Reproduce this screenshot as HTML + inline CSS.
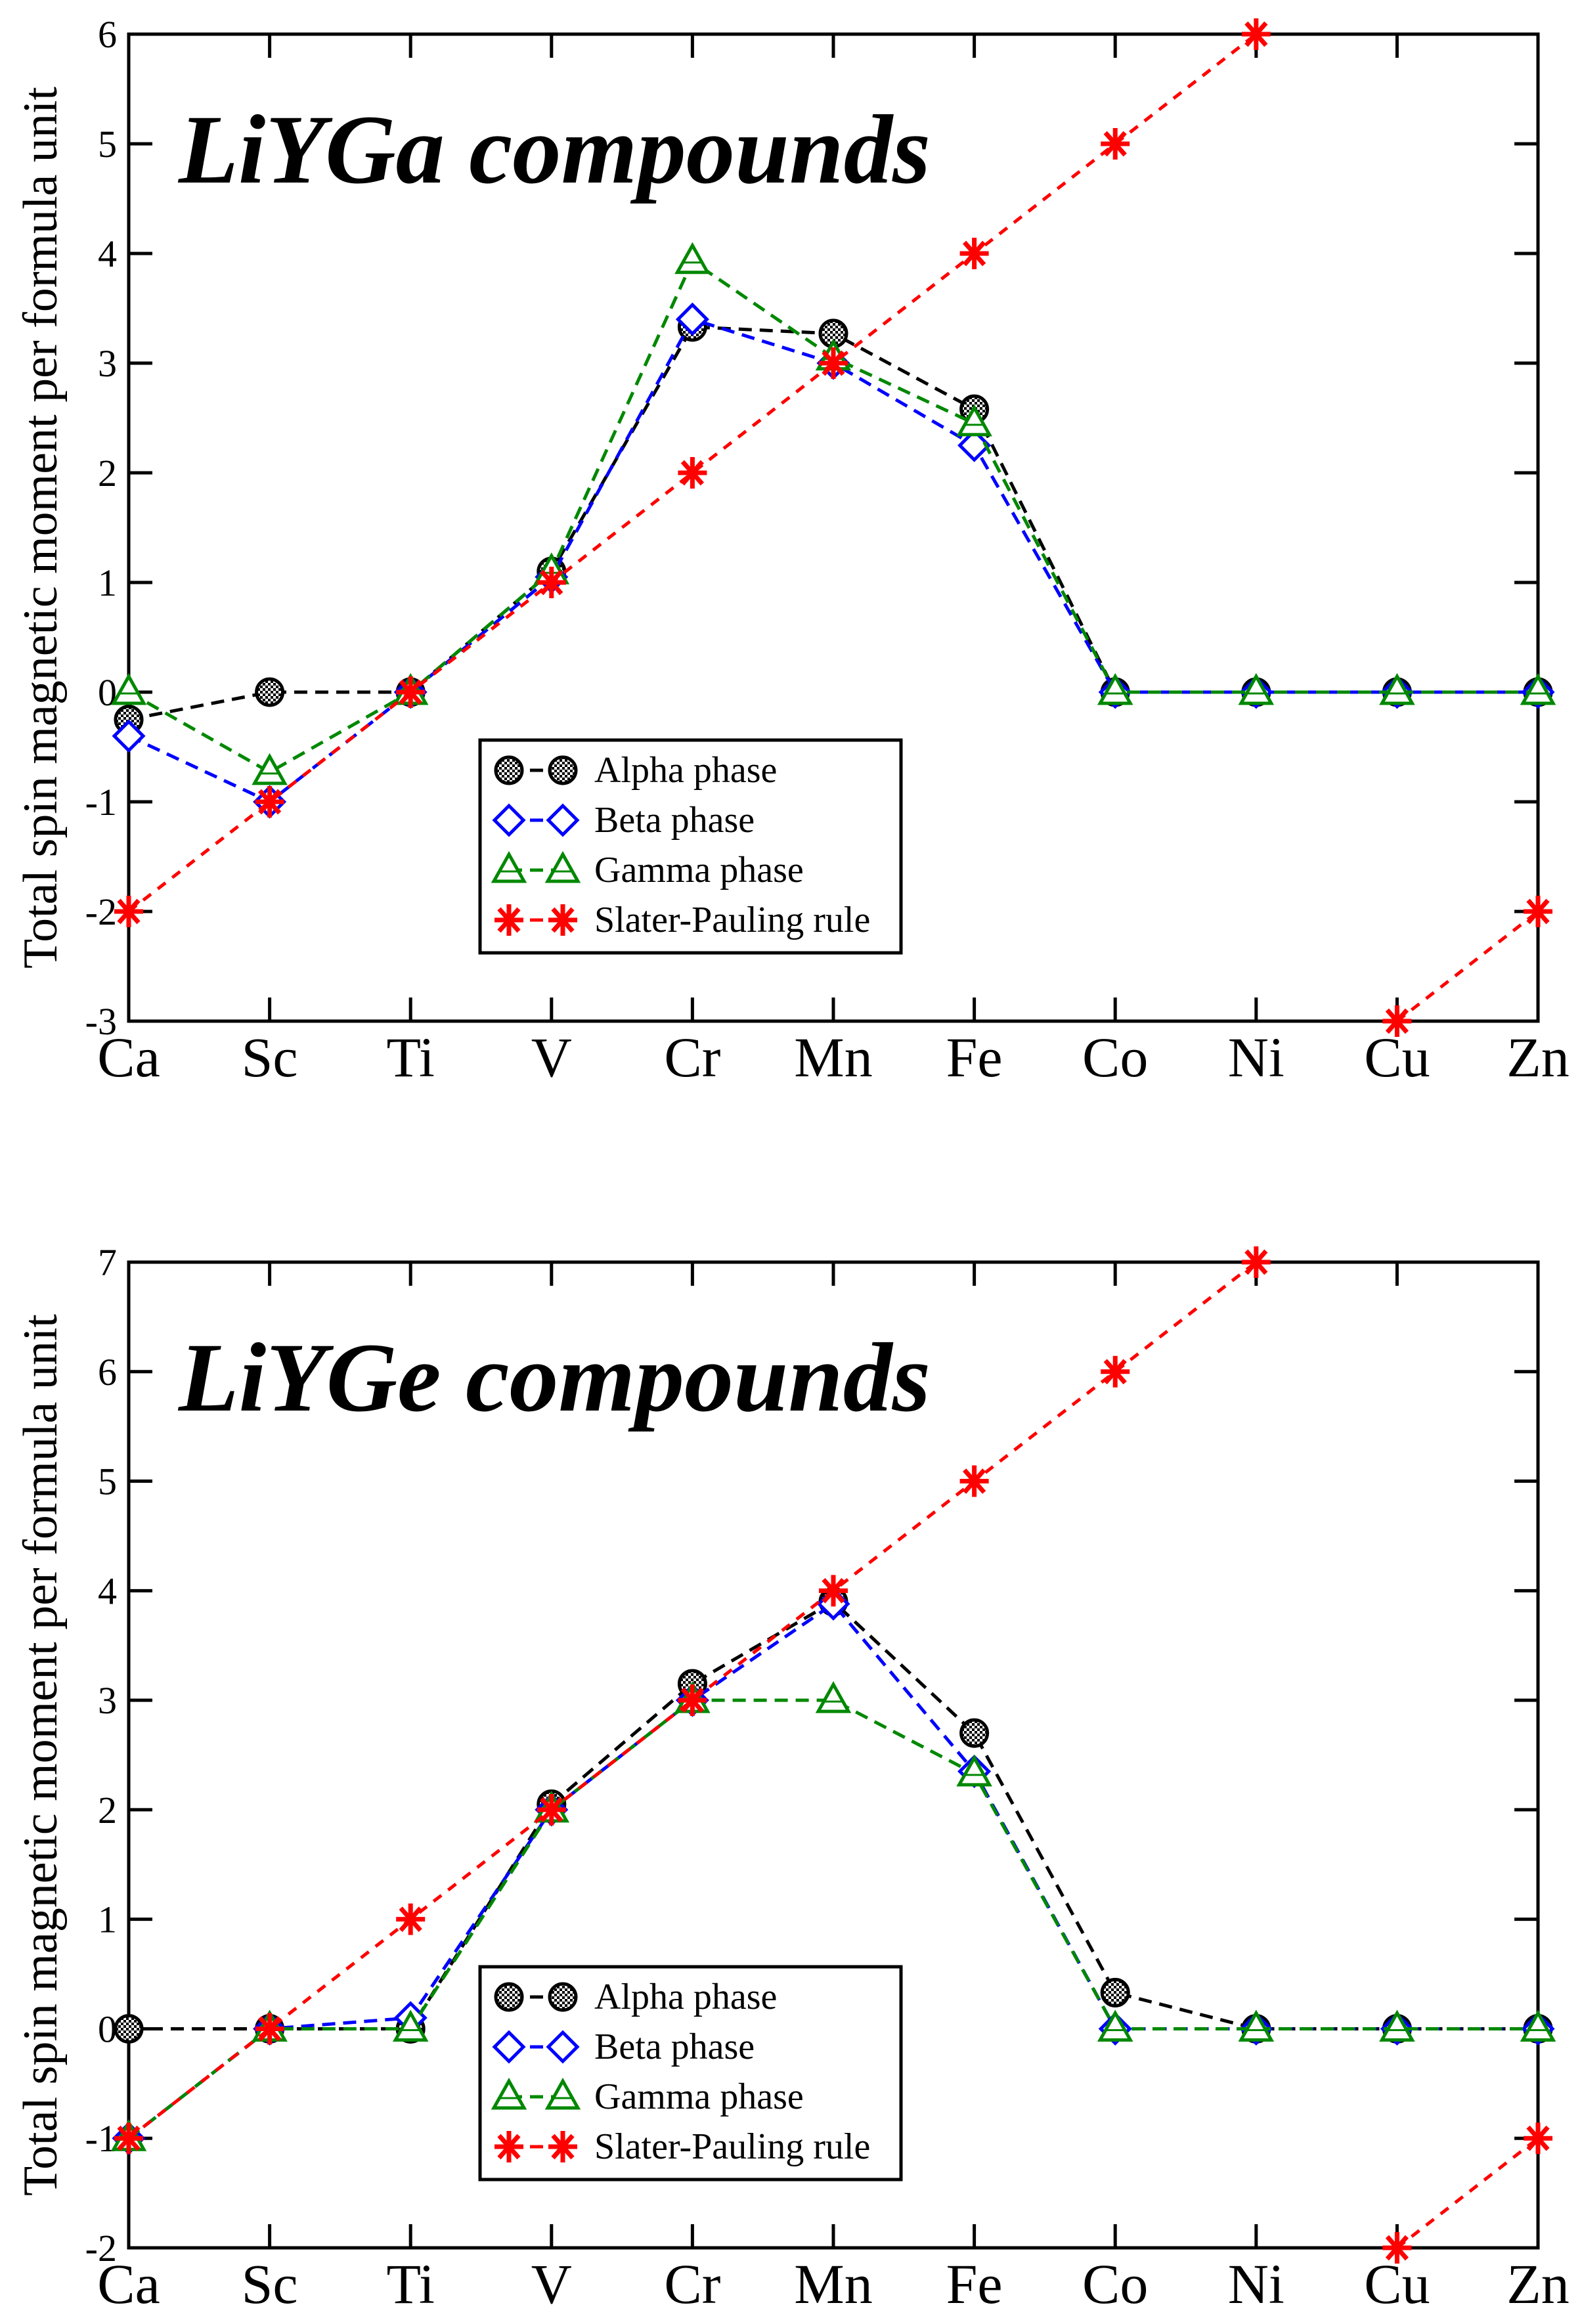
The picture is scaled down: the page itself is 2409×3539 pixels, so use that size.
<!DOCTYPE html>
<html><head><meta charset="utf-8"><style>
html,body{margin:0;padding:0;background:#fff;}
svg{display:block;}
text{font-family:"Liberation Serif",serif;}
</style></head><body>
<svg id="chart" width="2409" height="3539" viewBox="0 0 2409 3539" xmlns="http://www.w3.org/2000/svg">
<defs>
<pattern id="chk" width="8" height="8" patternUnits="userSpaceOnUse">
<rect width="8" height="8" fill="#fff"/><rect width="4" height="4" fill="#000"/><rect x="4" y="4" width="4" height="4" fill="#000"/>
</pattern>
</defs>
</svg>
<script>
const categories = ["Ca","Sc","Ti","V","Cr","Mn","Fe","Co","Ni","Cu","Zn"];
const gaYTicks = [-3,-2,-1,0,1,2,3,4,5,6];
const geYTicks = [-2,-1,0,1,2,3,4,5,6,7];
const gaAlpha = [-0.25,0,0,1.1,3.33,3.27,2.58,0,0,0,0];
const gaBeta  = [-0.4,-1,0,1.05,3.4,3.0,2.25,0,0,0,0];
const gaGamma = [0,-0.73,0,1.1,3.93,3.05,2.45,0,0,0,0];
const gaSP    = [-2,-1,0,1,2,3,4,5,6,-3,-2];
const geAlpha = [0,0,0,2.05,3.15,3.9,2.7,0.33,0,0,0];
const geBeta  = [-1,0,0.1,2.0,3.0,3.88,2.35,0,0,0,0];
const geGamma = [-1,0,0,2.0,3.0,3.0,2.33,0,0,0,0];
const geSP    = [-1,0,1,2,3,4,5,6,7,-2,-1];
const spBreakAfter = 8;

const NS="http://www.w3.org/2000/svg";
const svg=document.getElementById('chart');
function mk(tag,attrs,parent){const e=document.createElementNS(NS,tag);for(const k in attrs)e.setAttribute(k,attrs[k]);(parent||svg).appendChild(e);return e;}

function marker(g,kind,x,y){
  let e;
  if(kind==='alpha'){e=mk('circle',{cx:x,cy:y,r:20,fill:'url(#chk)',stroke:'#000','stroke-width':5},g);}
  else if(kind==='beta'){e=mk('path',{d:`M${x} ${y-22}L${x+22} ${y}L${x} ${y+22}L${x-22} ${y}Z`,fill:'#fff',stroke:'#0000ff','stroke-width':5},g);}
  else if(kind==='gamma'){e=mk('path',{d:`M${x} ${y-24}L${x+23} ${y+17}L${x-23} ${y+17}Z`,fill:'#fff',stroke:'#008800','stroke-width':5},g);
    mk('line',{x1:x-14,y1:y+2,x2:x+14,y2:y+2,stroke:'#008800','stroke-width':3},g);}
  else {e=mk('path',{d:`M${x-22} ${y}H${x+22}M${x} ${y-24}V${y+24}M${x-15} ${y-17}L${x+15} ${y+17}M${x-15} ${y+17}L${x+15} ${y-17}`,stroke:'#ff0000','stroke-width':7,fill:'none'},g);}
  
  
}

const styles={alpha:{c:'#000',d:'20 12'},beta:{c:'#0000ff',d:'20 12'},gamma:{c:'#008800',d:'20 12'},sp:{c:'#ff0000',d:'15 13'}};

function drawPlot(top,bottom,yTicks,series,title,legTop,name){
  const L=196,R=2342;
  const ymin=yTicks[0],ymax=yTicks[yTicks.length-1];
  const xs=i=>L+i*(R-L)/(categories.length-1);
  const ys=v=>bottom-(v-ymin)/(ymax-ymin)*(bottom-top);
  const g=mk('g',{});
  
  
  const fr=mk('rect',{x:L,y:top,width:R-L,height:bottom-top,fill:'none',stroke:'#000','stroke-width':5},g);
  
  
  yTicks.forEach(v=>{
    const y=ys(v);
    const t=mk('path',{d:`M${L} ${y}h36M${R} ${y}h-36`,stroke:'#000','stroke-width':5},g);
    
    
    const tl=mk('text',{x:178,y:y+20,'font-size':58,'text-anchor':'end'},g);
    tl.textContent=v;
    
    
  });
  categories.forEach((c,i)=>{
    const x=xs(i);
    const t=mk('path',{d:`M${x} ${top}v36M${x} ${bottom}v-36`,stroke:'#000','stroke-width':5},g);
    
    
    const tl=mk('text',{x:x,y:bottom+84,'font-size':86,'text-anchor':'middle'},g);
    tl.textContent=c;
    
    
  });
  const yl=mk('text',{x:0,y:0,'font-size':74,'text-anchor':'middle',transform:`translate(86 ${(top+bottom)/2}) rotate(-90)`},g);
  yl.textContent='Total spin magnetic moment per formula unit';
  
  
  const tt=mk('text',{x:272,y:top+226,'font-size':150,'font-weight':'bold','font-style':'italic',textLength:1145,lengthAdjust:'spacingAndGlyphs'},g);
  tt.textContent=title;
  
  
  const order=['alpha','beta','gamma','sp'];
  order.forEach(k=>{
    const vals=series[k],st=styles[k];
    const segs=k==='sp'?[[0,spBreakAfter],[spBreakAfter+1,vals.length-1]]:[[0,vals.length-1]];
    segs.forEach(([a,b])=>{
      let d='';for(let i=a;i<=b;i++)d+=(i===a?'M':'L')+xs(i)+' '+ys(vals[i]);
      const p=mk('path',{d:d,fill:'none',stroke:st.c,'stroke-width':5,'stroke-dasharray':st.d},g);
      
      
    });
    vals.forEach((v,i)=>marker(g,k,xs(i),ys(v)));
  });
  const lg=mk('g',{},g);
  
  
  const lb=mk('rect',{x:731,y:legTop,width:641,height:324,fill:'#fff',stroke:'#000','stroke-width':5},lg);
  
  
  const labels={alpha:'Alpha phase',beta:'Beta phase',gamma:'Gamma phase',sp:'Slater-Pauling rule'};
  order.forEach((k,j)=>{
    const y=legTop+46+j*76;
    const e=mk('g',{},lg);
    
    
    mk('path',{d:`M775 ${y}H857`,stroke:styles[k].c,'stroke-width':5,'stroke-dasharray':'20 12'},e);
    marker(e,k,775,y);marker(e,k,857,y);
    const t=mk('text',{x:905,y:y+18,'font-size':56},e);
    t.textContent=labels[k];
  });
}
drawPlot(52,1555,gaYTicks,{alpha:gaAlpha,beta:gaBeta,gamma:gaGamma,sp:gaSP},'LiYGa compounds',1127,'liyga-plot');
drawPlot(1922,3423,geYTicks,{alpha:geAlpha,beta:geBeta,gamma:geGamma,sp:geSP},'LiYGe compounds',2995,'liyge-plot');
</script>
</body></html>
